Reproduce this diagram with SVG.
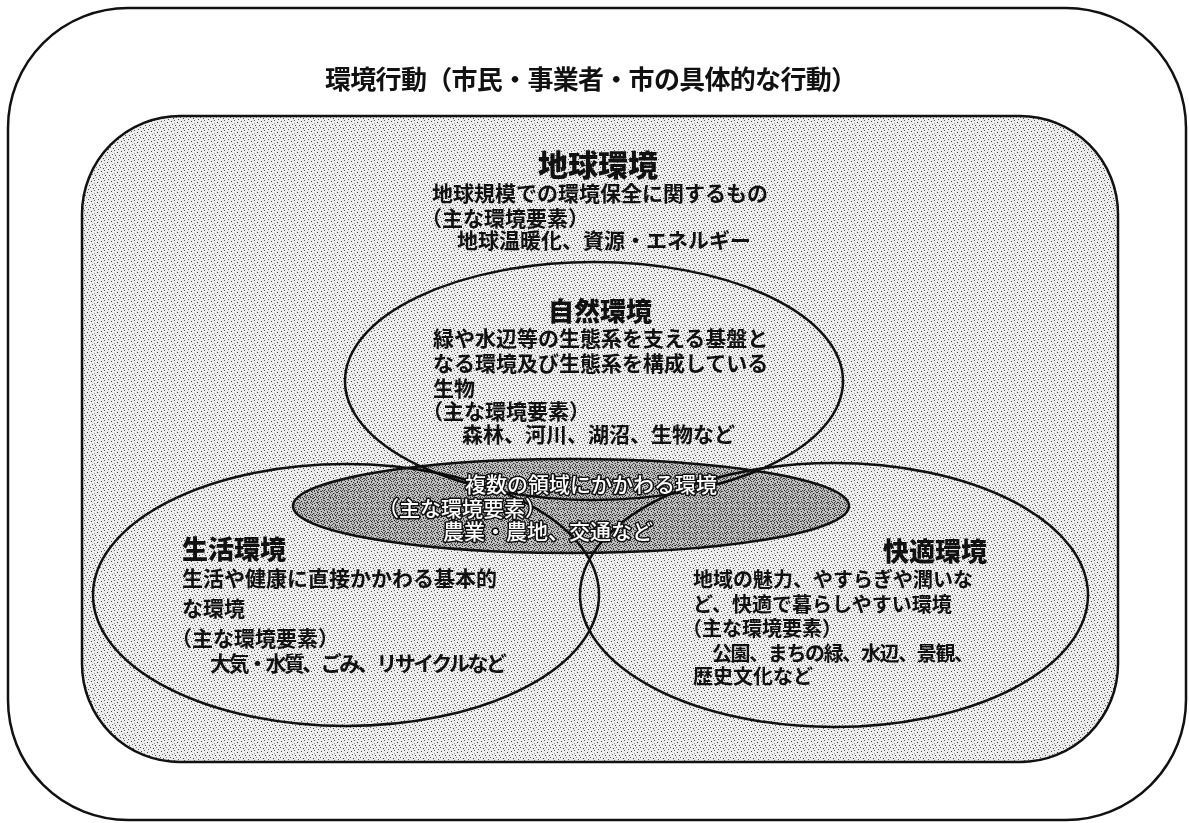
<svg xmlns="http://www.w3.org/2000/svg" width="1189" height="823" viewBox="0 0 1189 823">
<defs>
<pattern id="stip" width="10" height="10" patternUnits="userSpaceOnUse">
<rect width="10" height="10" fill="#ececec"/>
<rect x="1" y="1" width="1" height="1" fill="#444"/>
<rect x="4" y="0" width="1" height="1" fill="#666"/>
<rect x="7" y="2" width="1" height="1" fill="#3a3a3a"/>
<rect x="9" y="5" width="1" height="1" fill="#555"/>
<rect x="2" y="4" width="1" height="1" fill="#777"/>
<rect x="5" y="5" width="1" height="1" fill="#444"/>
<rect x="0" y="7" width="1" height="1" fill="#555"/>
<rect x="3" y="8" width="1" height="1" fill="#3a3a3a"/>
<rect x="6" y="7" width="1" height="1" fill="#888"/>
<rect x="8" y="9" width="1" height="1" fill="#555"/>
<rect x="4" y="3" width="1" height="1" fill="#999"/>
</pattern>
<pattern id="dark" width="6" height="6" patternUnits="userSpaceOnUse">
<rect width="6" height="6" fill="#cccccc"/>
<rect x="0" y="0" width="1" height="1" fill="#444"/>
<rect x="3" y="1" width="1" height="1" fill="#444"/>
<rect x="5" y="2" width="1" height="1" fill="#444"/>
<rect x="1" y="3" width="1" height="1" fill="#444"/>
<rect x="4" y="4" width="1" height="1" fill="#444"/>
<rect x="2" y="5" width="1" height="1" fill="#444"/>
<rect x="0" y="4" width="1" height="1" fill="#666"/>
<rect x="5" y="5" width="1" height="1" fill="#666"/>
</pattern>
<style>
.t{font-family:"Noto Sans CJK JP","Noto Sans CJK SC",sans-serif;fill:#111;}
.b{font-size:21px;font-weight:700;}
.c{font-size:20px;font-weight:700;}
.h{font-size:26px;font-weight:900;}
.o{font-family:"Noto Sans CJK JP","Noto Sans CJK SC",sans-serif;font-size:21px;font-weight:500;fill:#fff;stroke:#111;stroke-width:3;stroke-linejoin:round;paint-order:stroke;}
.ln{fill:none;stroke:#111;stroke-width:2.5;}
</style>
</defs>
<rect width="1189" height="823" fill="#fff"/>
<g id="environmental-action">
<rect x="8" y="8" width="1178" height="812" rx="120" ry="120" class="ln"/>
<text class="t" x="325" y="89" font-size="26" font-weight="700" textLength="532">環境行動（市民・事業者・市の具体的な行動）</text>
</g>
<g id="global-environment">
<rect x="82" y="116" width="1036" height="646" rx="98" ry="98" fill="url(#stip)" stroke="#111" stroke-width="2.5"/>
<text class="t" x="598" y="176" font-size="30" font-weight="900" text-anchor="middle">地球環境</text>
<text class="t b" x="432" y="201">地球規模での環境保全に関するもの</text>
<text class="t b" x="421" y="226">（主な環境要素）</text>
<text class="t b" x="457" y="248">地球温暖化、資源・エネルギー</text>
</g>
<g id="natural-environment">
<ellipse cx="594" cy="381" rx="249" ry="119" class="ln"/>
<text class="t h" x="548" y="321">自然環境</text>
<text class="t b" x="433" y="346">緑や水辺等の生態系を支える基盤と</text>
<text class="t b" x="433" y="371">なる環境及び生態系を構成している</text>
<text class="t b" x="433" y="396">生物</text>
<text class="t b" x="422" y="419">（主な環境要素）</text>
<text class="t b" x="462" y="442">森林、河川、湖沼、生物など</text>
</g>
<g id="living-environment">
<ellipse cx="346" cy="595" rx="253" ry="131" class="ln"/>
<text class="t h" x="182" y="559">生活環境</text>
<text class="t b" x="182" y="586">生活や健康に直接かかわる基本的</text>
<text class="t b" x="182" y="616">な環境</text>
<text class="t b" x="171" y="646">（主な環境要素）</text>
<text class="t b" x="210" y="671" textLength="297">大気・水質、ごみ、リサイクルなど</text>
</g>
<g id="amenity-environment">
<ellipse cx="834" cy="595" rx="254" ry="132" class="ln"/>
<text class="t h" x="883" y="561">快適環境</text>
<text class="t c" x="693" y="587">地域の魅力、やすらぎや潤いな</text>
<text class="t c" x="693" y="612">ど、快適で暮らしやすい環境</text>
<text class="t c" x="682" y="636">（主な環境要素）</text>
<text class="t c" x="712" y="661" textLength="262">公園、まちの緑、水辺、景観、</text>
<text class="t c" x="693" y="684">歴史文化など</text>
</g>
<g id="cross-domain-environment">
<ellipse cx="571" cy="506" rx="278" ry="47" fill="url(#dark)" style="mix-blend-mode:multiply"/>
<ellipse cx="571" cy="506" rx="278" ry="47" class="ln"/>
<text class="o" x="465" y="492">複数の領域にかかわる環境</text>
<text class="o" x="378" y="516">（主な環境要素）</text>
<text class="o" x="443" y="539">農業・農地、交通など</text>
</g>
<g id="connectors"/>
</svg>
